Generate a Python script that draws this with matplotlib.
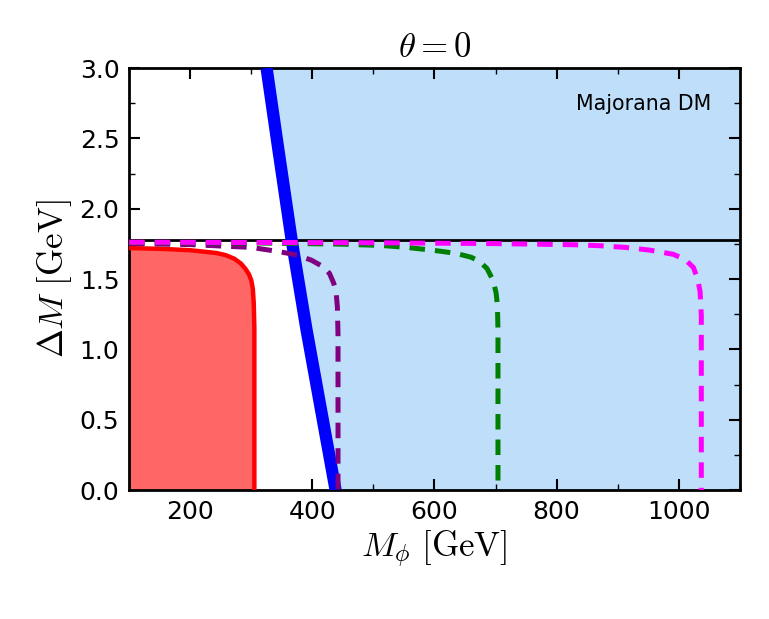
import numpy as np
import matplotlib
matplotlib.use("Agg")
import matplotlib.pyplot as plt
from matplotlib.ticker import MultipleLocator

plt.rcParams['mathtext.fontset'] = 'cm'
plt.rcParams['font.family'] = ['DejaVu Sans']

# Data
blue_y = [3.0, 2.4, 1.78, 1.15, 0.55, 0.0]
blue_x = [325, 345, 366, 390, 415, 438]

red_x = [100, 150, 200, 243, 258, 272, 283, 290, 296, 300, 302.5, 304, 305, 305]
red_y = [1.72, 1.715, 1.705, 1.685, 1.67, 1.645, 1.61, 1.575, 1.535, 1.49, 1.43, 1.33, 1.15, 0.0]

purple_x = [100, 200, 300, 347, 375, 398, 418, 428, 435, 439, 441, 442, 442]
purple_y = [1.752, 1.745, 1.725, 1.694, 1.67, 1.635, 1.587, 1.54, 1.47, 1.40, 1.3, 1.1, 0.0]

green_x = [100, 300, 450, 516, 554, 595, 635, 660, 673, 686, 696, 701, 703, 704, 704]
green_y = [1.76, 1.757, 1.748, 1.738, 1.725, 1.706, 1.683, 1.655, 1.628, 1.575, 1.49, 1.40, 1.315, 1.137, 0.0]

magenta_x = [100, 500, 700, 827, 871, 912, 952, 991, 1010, 1024, 1031, 1035, 1037, 1037]
magenta_y = [1.762, 1.758, 1.752, 1.744, 1.737, 1.725, 1.706, 1.676, 1.64, 1.583, 1.50, 1.41, 1.244, 0.0]

m_tau = 1.777

fig = plt.figure(figsize=(7.69, 6.19), dpi=100)
ax = fig.add_axes([0.168, 0.2084, 0.794, 0.6816])

ax.fill_betweenx(blue_y, blue_x, 1100, color='#bedefa', lw=0, zorder=1)
ax.fill_between(red_x, 0, red_y, color=(1, 0.4, 0.4), lw=0, zorder=2)
ax.plot(red_x, red_y, color='red', lw=3.2, zorder=3)
ax.axhline(m_tau, color='black', lw=2, zorder=3)
ax.plot(blue_x, blue_y, color='blue', lw=8.8, zorder=4, solid_capstyle='butt')
ds = (3.1, 2.0)
ax.plot(purple_x, purple_y, color='purple', lw=3.6, dashes=ds, zorder=5)
ax.plot(green_x, green_y, color='green', lw=3.6, dashes=ds, zorder=5)
ax.plot(magenta_x, magenta_y, color='magenta', lw=3.6, dashes=ds, zorder=5)

ax.text(0.954, 0.915, 'Majorana DM', transform=ax.transAxes, ha='right', va='center', fontsize=14.8)

ax.set_xlim(100, 1100)
ax.set_ylim(0, 3.0)
ax.xaxis.set_major_locator(MultipleLocator(200))
ax.xaxis.set_minor_locator(MultipleLocator(100))
ax.yaxis.set_major_locator(MultipleLocator(0.5))
ax.yaxis.set_minor_locator(MultipleLocator(0.25))
ax.tick_params(which='both', direction='in', top=True, right=True, labelsize=18, pad=7)
ax.tick_params(which='major', length=8, width=1.5)
ax.tick_params(which='minor', length=4, width=1)
for s in ax.spines.values():
    s.set_linewidth(2)
ax.set_xlabel(r'$M_\phi\ [\mathrm{GeV}]$', fontsize=25)
ax.set_ylabel(r'$\Delta M\ [\mathrm{GeV}]$', fontsize=25)
ax.set_title(r'$\theta=0$', fontsize=25, pad=8)

fig.savefig('out.png', dpi=100)
